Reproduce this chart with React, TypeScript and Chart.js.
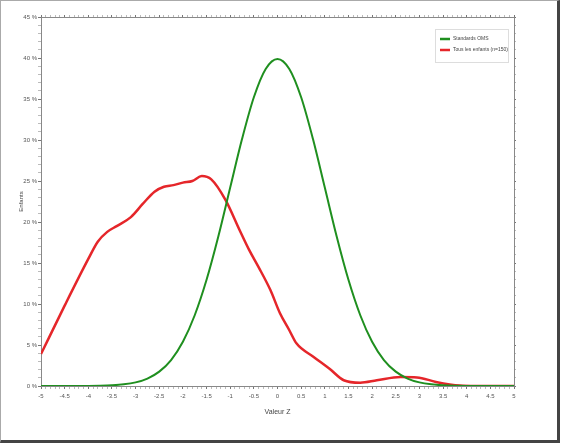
import React, { useEffect, useRef } from "react";
import { Chart, registerables } from "chart.js";

Chart.register(...registerables);

const greenX = [-5, -4.5, -4, -3.75, -3.5, -3.25, -3, -2.75, -2.5, -2.25, -2, -1.75, -1.5, -1.25, -1, -0.75, -0.5, -0.25, 0, 0.25, 0.5, 0.75, 1, 1.25, 1.5, 1.75, 2, 2.25, 2.5, 2.75, 3, 3.25, 3.5, 3.75, 4, 4.5, 5];
const greenY = [0, 0.002, 0.013, 0.035, 0.087, 0.2, 0.44, 0.91, 1.75, 3.17, 5.4, 8.63, 12.95, 18.26, 24.2, 30.11, 35.21, 38.67, 39.89, 38.67, 35.21, 30.11, 24.2, 18.26, 12.95, 8.63, 5.4, 3.17, 1.75, 0.91, 0.44, 0.2, 0.087, 0.035, 0.013, 0.002, 0];

const redX = [-5, -4.5, -4, -3.8, -3.6, -3.4, -3.1, -2.85, -2.6, -2.4, -2.2, -2.0, -1.8, -1.6, -1.4, -1.1, -0.8, -0.6, -0.4, -0.15, 0.05, 0.25, 0.4, 0.75, 1.1, 1.4, 1.75, 2.1, 2.6, 2.95, 3.35, 3.85, 4.2, 5];
const redY = [3.9, 9.8, 15.5, 17.6, 18.8, 19.5, 20.6, 22.2, 23.7, 24.3, 24.5, 24.8, 25.0, 25.6, 25.2, 22.7, 19.0, 16.6, 14.5, 11.7, 8.9, 6.8, 5.2, 3.6, 2.1, 0.7, 0.4, 0.7, 1.1, 1.05, 0.5, 0.05, 0, 0];

const seriesLabels = ["Standards OMS", "Tous les enfants (n=150)"];
const xTitle = "Valeur Z";
const yTitle = "Enfants";

const FONT = "'Liberation Sans', Arial, sans-serif";
const GREEN = "#1f8f1f";
const RED = "#e5262a";

const isMultiple = (v: number, step: number) => Math.abs(v / step - Math.round(v / step)) < 1e-6;

const insideLegend = {
  id: "insideLegend",
  afterDraw(chart: any) {
    const { ctx, chartArea } = chart;
    const w = 73;
    const h = 33;
    const left = chartArea.right - 79;
    const top = chartArea.top + 12;
    ctx.save();
    ctx.fillStyle = "#ffffff";
    ctx.fillRect(left, top, w, h);
    ctx.strokeStyle = "#dddddd";
    ctx.lineWidth = 1;
    ctx.strokeRect(left + 0.5, top + 0.5, w, h);
    ctx.font = `5px ${FONT}`;
    ctx.textBaseline = "middle";
    chart.data.datasets.forEach((ds: any, i: number) => {
      const y = top + 10 + i * 11;
      ctx.strokeStyle = ds.borderColor;
      ctx.lineWidth = 2.5;
      ctx.beginPath();
      ctx.moveTo(left + 5, y);
      ctx.lineTo(left + 15, y);
      ctx.stroke();
      ctx.fillStyle = "#444";
      ctx.fillText(ds.label, left + 18, y);
    });
    ctx.restore();
  },
};

export default function App() {
  const ref = useRef<HTMLCanvasElement | null>(null);

  useEffect(() => {
    if (!ref.current) return;
    const chart = new Chart(ref.current, {
      type: "line",
      data: {
        datasets: [
          {
            label: seriesLabels[0],
            data: greenX.map((x, i) => ({ x, y: greenY[i] })),
            borderColor: GREEN,
            backgroundColor: GREEN,
            borderWidth: 2,
            pointRadius: 0,
            cubicInterpolationMode: "monotone",
            xAxisID: "x",
            yAxisID: "y",
          },
          {
            label: seriesLabels[1],
            data: redX.map((x, i) => ({ x, y: redY[i] })),
            borderColor: RED,
            backgroundColor: RED,
            borderWidth: 2.5,
            pointRadius: 0,
            cubicInterpolationMode: "monotone",
            xAxisID: "x",
            yAxisID: "y",
          },
        ],
      },
      options: {
        responsive: false,
        animation: false,
        layout: { padding: 0 },
        plugins: {
          legend: { display: false },
          tooltip: { enabled: false },
        },
        scales: {
          x: {
            type: "linear",
            position: "bottom",
            min: -5,
            max: 5,
            afterFit: (s: any) => {
              s.height = 54;
            },
            ticks: {
              stepSize: 0.1,
              autoSkip: false,
              maxRotation: 0,
              padding: 4,
              color: "#555",
              font: { size: 6, family: FONT },
              callback: (v: any) => (isMultiple(Number(v), 0.5) ? String(Number(v)) : ""),
            },
            grid: {
              drawOnChartArea: false,
              tickLength: 3,
              tickColor: (c: any) => (isMultiple(c.tick.value, 0.5) ? "#777" : "#bbb"),
            },
            border: { color: "#888", dash: [2, 1] },
            title: {
              display: true,
              text: xTitle,
              color: "#444",
              font: { size: 7, family: FONT },
              padding: { top: 0, bottom: 24 },
            },
          },
          x2: {
            type: "linear",
            position: "top",
            min: -5,
            max: 5,
            afterFit: (s: any) => {
              s.height = 16;
            },
            ticks: { display: false, stepSize: 0.1, autoSkip: false },
            grid: {
              drawOnChartArea: false,
              tickLength: 2,
              tickColor: (c: any) => (isMultiple(c.tick.value, 0.5) ? "#777" : "#bbb"),
            },
            border: { color: "#888", dash: [2, 1] },
          },
          y: {
            type: "linear",
            position: "left",
            min: 0,
            max: 45,
            afterFit: (s: any) => {
              s.width = 40;
            },
            ticks: {
              stepSize: 1,
              autoSkip: false,
              padding: 1,
              color: "#555",
              font: { size: 6, family: FONT },
              callback: (v: any) => (isMultiple(Number(v), 5) ? `${Number(v)} %` : ""),
            },
            grid: {
              drawOnChartArea: false,
              tickLength: 3,
              tickColor: (c: any) => (isMultiple(c.tick.value, 5) ? "#777" : "#bbb"),
            },
            border: { color: "#888", dash: [2, 1] },
            title: {
              display: true,
              text: yTitle,
              color: "#444",
              font: { size: 6, family: FONT },
              padding: { top: 17, bottom: 0 },
            },
          },
          y2: {
            type: "linear",
            position: "right",
            min: 0,
            max: 45,
            afterFit: (s: any) => {
              s.width = 43;
            },
            ticks: { display: false, stepSize: 1, autoSkip: false },
            grid: {
              drawOnChartArea: false,
              tickLength: 2,
              tickColor: (c: any) => (isMultiple(c.tick.value, 5) ? "#777" : "#bbb"),
            },
            border: { color: "#888", dash: [2, 1] },
          },
        },
      },
      plugins: [insideLegend],
    } as any);
    return () => chart.destroy();
  }, []);

  return (
    <div style={{ position: "absolute", left: 0, top: 0, width: 566, height: 447, background: "#fff" }}>
      <div
        style={{
          position: "absolute",
          left: 0,
          top: 0,
          width: 556,
          height: 439,
          borderLeft: "1px solid #aaa",
          borderTop: "1px solid #aaa",
          borderRight: "3px solid #444",
          borderBottom: "3px solid #444",
          background: "#fff",
        }}
      >
        <canvas ref={ref} width={556} height={439} style={{ display: "block" }} />
      </div>
    </div>
  );
}
